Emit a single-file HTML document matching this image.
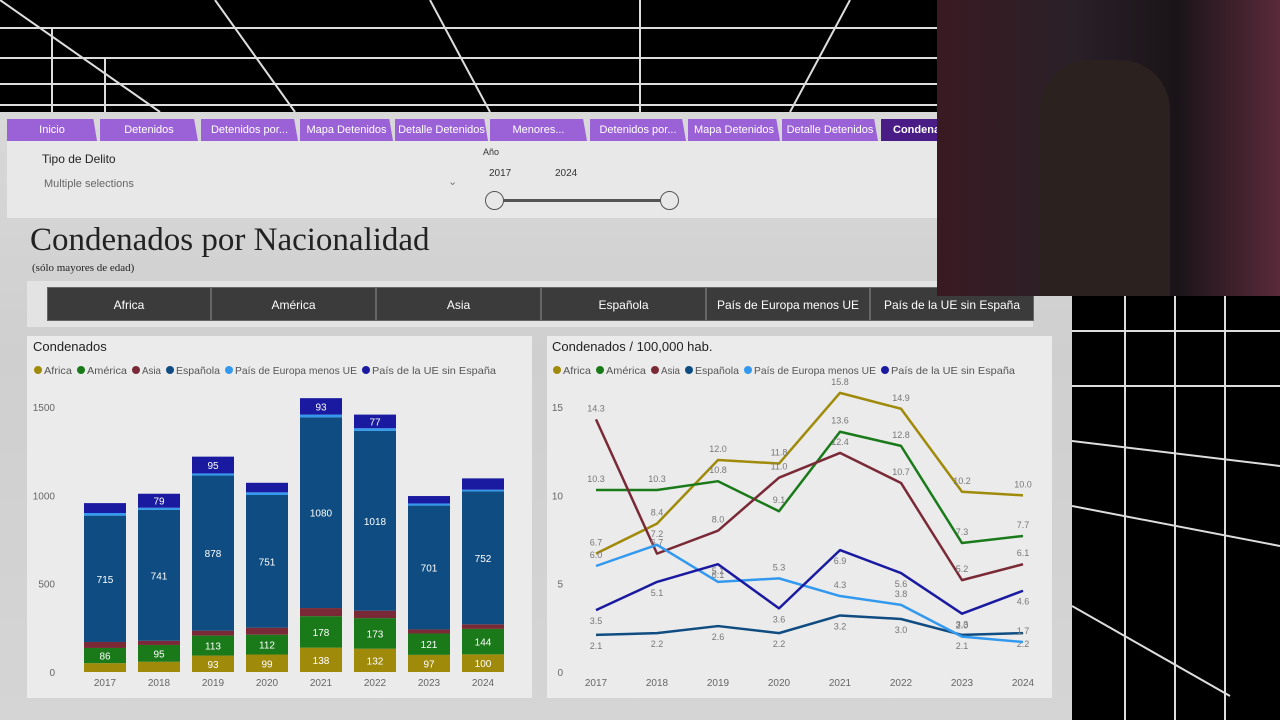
<!DOCTYPE html>
<html><head><meta charset="utf-8"><style>
body{margin:0;width:1280px;height:720px;overflow:hidden;background:#000;font-family:"Liberation Sans",sans-serif;position:relative}
.abs{position:absolute}
.tab{position:absolute;top:119px;height:22px;background:#9b62d8;color:#fff;font-size:11px;line-height:22px;text-align:center;clip-path:polygon(0 0,96% 0,100% 100%,0 100%)}
.btn{position:absolute;top:287px;height:34px;background:#3b3b3b;color:#fff;font-size:12px;line-height:34px;text-align:center;border:1px solid #666;box-sizing:border-box}
</style></head><body>
<svg class="abs" style="left:0;top:0" width="937" height="115">
<rect width="937" height="115" fill="#000"/>
<g stroke="#ddd" stroke-width="2" fill="none">
<line x1="0" y1="28" x2="937" y2="28"/><line x1="0" y1="58" x2="937" y2="58"/><line x1="0" y1="84" x2="937" y2="84"/><line x1="0" y1="105" x2="937" y2="105"/>
<line x1="0" y1="0" x2="160" y2="112"/><line x1="215" y1="0" x2="295" y2="112"/><line x1="430" y1="0" x2="490" y2="112"/><line x1="640" y1="0" x2="640" y2="112"/><line x1="850" y1="0" x2="790" y2="112"/>
<line x1="52" y1="28" x2="52" y2="112"/><line x1="105" y1="58" x2="105" y2="112"/></g></svg>
<div class="abs" style="left:0;top:112px;width:1072px;height:608px;background:linear-gradient(#d8d8d8,#cfcfcf 40%,#d5d5d5)"></div>
<div class="abs" style="left:7px;top:141px;width:930px;height:77px;background:#e8e8e8"></div>
<div class="tab" style="left:7px;width:90px">Inicio</div>
<div class="tab" style="left:100px;width:98px">Detenidos</div>
<div class="tab" style="left:201px;width:97px">Detenidos por...</div>
<div class="tab" style="left:300px;width:93px">Mapa Detenidos</div>
<div class="tab" style="left:395px;width:93px">Detalle Detenidos</div>
<div class="tab" style="left:490px;width:97px">Menores...</div>
<div class="tab" style="left:590px;width:96px">Detenidos por...</div>
<div class="tab" style="left:688px;width:92px">Mapa Detenidos</div>
<div class="tab" style="left:782px;width:96px">Detalle Detenidos</div>
<div class="tab" style="left:881px;width:60px;background:#4a1c86;font-weight:bold;text-align:left;padding-left:12px;clip-path:none">Condena</div>
<div class="abs" style="left:42px;top:152px;font-size:12px;color:#222">Tipo de Delito</div>
<div class="abs" style="left:44px;top:178px;font-size:11px;color:#666">Multiple selections</div>
<div class="abs" style="left:448px;top:175px;font-size:11px;color:#777">&#8964;</div>
<div class="abs" style="left:483px;top:147px;font-size:9px;color:#333">Año</div>
<div class="abs" style="left:489px;top:168px;font-size:10px;color:#333">2017</div>
<div class="abs" style="left:555px;top:168px;font-size:10px;color:#333">2024</div>
<div class="abs" style="left:495px;top:199px;width:175px;height:3px;background:#555"></div>
<div class="abs" style="left:485px;top:191px;width:17px;height:17px;border:1.5px solid #555;border-radius:50%;background:#e8e8e8"></div>
<div class="abs" style="left:660px;top:191px;width:17px;height:17px;border:1.5px solid #555;border-radius:50%;background:#e8e8e8"></div>
<div class="abs" style="left:30px;top:222px;font-family:'Liberation Serif',serif;font-size:33px;color:#222">Condenados por Nacionalidad</div>
<div class="abs" style="left:32px;top:262px;font-family:'Liberation Serif',serif;font-size:11px;color:#222">(sólo mayores de edad)</div>
<div class="abs" style="left:27px;top:281px;width:1006px;height:46px;background:#e3e3e3"></div>
<div class="btn" style="left:47px;width:164px">Africa</div>
<div class="btn" style="left:211px;width:165px">América</div>
<div class="btn" style="left:376px;width:165px">Asia</div>
<div class="btn" style="left:541px;width:165px">Española</div>
<div class="btn" style="left:706px;width:164px">País de Europa menos UE</div>
<div class="btn" style="left:870px;width:164px">País de la UE sin España</div>
<div class="abs" style="left:937px;top:0;width:343px;height:296px;background:linear-gradient(90deg,#3a1a22,#2a2028 40%,#1a1418 70%,#5a2a3a)"></div>
<div class="abs" style="left:1040px;top:60px;width:130px;height:236px;background:#2b2220;border-radius:50px 50px 0 0"></div>
<svg class="abs" style="left:1072px;top:296px" width="208" height="424">
<rect width="208" height="424" fill="#000"/><g stroke="#ddd" stroke-width="2">
<line x1="53" y1="0" x2="53" y2="424"/><line x1="103" y1="0" x2="103" y2="424"/><line x1="153" y1="0" x2="153" y2="424"/>
<line x1="0" y1="35" x2="208" y2="35"/><line x1="0" y1="90" x2="208" y2="90"/><line x1="0" y1="145" x2="208" y2="170"/><line x1="0" y1="210" x2="208" y2="250"/><line x1="0" y1="310" x2="158" y2="400"/></g></svg>
<div class="abs" style="left:27px;top:336px;width:505px;height:362px;background:#ebebeb"></div>
<div class="abs" style="left:547px;top:336px;width:505px;height:362px;background:#ebebeb"></div>
<svg id="bar" class="abs" style="left:0;top:0" width="1280" height="720"></svg>
<script>
const years=["2017","2018","2019","2020","2021","2022","2023","2024"];
const seriesNames=["Africa","América","Asia","Española","País de Europa menos UE","País de la UE sin España"];
const colors=["#a08a0a","#1a7a1a","#7a2a36","#0f4c81","#3399ee","#1a1aa0"];
const barAfrica=[50,58,93,99,138,132,97,100];
const barAmerica=[86,95,113,112,178,173,121,144];
const barAsia=[34,24,28,40,46,42,23,26];
const barEspanola=[715,741,878,751,1080,1018,701,752];
const barEuropa=[15,12,12,15,15,15,12,10];
const barUE=[56,79,95,54,93,77,42,64];
const barLabels=[[false,false,true,true,true,true,true,true],[true,true,true,true,true,true,true,true],[false,false,false,false,false,false,false,false],[true,true,true,true,true,true,true,true],[false,false,false,false,false,false,false,false],[false,true,true,false,true,true,false,false]];
const barTicks=[0,500,1000,1500];
const lineAfrica=[6.7,8.4,12.0,11.8,15.8,14.9,10.2,10.0];
const lineAmerica=[10.3,10.3,10.8,9.1,13.6,12.8,7.3,7.7];
const lineAsia=[14.3,6.7,8.0,11.0,12.4,10.7,5.2,6.1];
const lineEspanola=[2.1,2.2,2.6,2.2,3.2,3.0,2.1,2.2];
const lineEuropa=[6.0,7.2,5.1,5.3,4.3,3.8,2.0,1.7];
const lineUE=[3.5,5.1,6.1,3.6,6.9,5.6,3.3,4.6];
const lineTicks=[0,5,10,15];
const NS="http://www.w3.org/2000/svg";
const svg=document.getElementById('bar');
function mk(t,a,txt){const e=document.createElementNS(NS,t);for(const k in a)e.setAttribute(k,a[k]);if(txt!=null)e.textContent=txt;svg.appendChild(e);return e;}
function fmt(v){return v.toFixed(1);}
const by=v=>672-v*265/1500, bx=i=>105+i*54;
let t=mk('text',{x:33,y:351,'font-size':13,fill:'#222'},'Condenados');


const legendWidths=[28,40,19,44,122,124];
function legend(x0,prefix){let x=x0;seriesNames.forEach((n,i)=>{let c=mk('circle',{cx:x+4,cy:370,r:4,fill:colors[i]});let tt=mk('text',{x:x+10,y:374,'font-size':10.5,fill:'#555',textLength:legendWidths[i],lengthAdjust:'spacingAndGlyphs'},n);x+=10+legendWidths[i]+5;});}
legend(34,'bar');legend(553,'line');
barTicks.forEach(v=>{let e=mk('text',{x:55,y:by(v)+4,'font-size':10,fill:'#666','text-anchor':'end'},String(v));});
const stacks=[barAfrica,barAmerica,barAsia,barEspanola,barEuropa,barUE];
years.forEach((y,i)=>{let base=0;stacks.forEach((s,j)=>{const v=s[i];let r=mk('rect',{x:bx(i)-21,y:by(base+v),width:42,height:v*265/1500,fill:colors[j]});
if(barLabels[j][i]){let l=mk('text',{x:bx(i),y:by(base+v/2)+4,'font-size':10,fill:'#fff','text-anchor':'middle'},String(v));}
base+=v;});
let xl=mk('text',{x:bx(i),y:686,'font-size':10,fill:'#666','text-anchor':'middle'},y);});
const ly=v=>672-v*265/15, lx=i=>596+i*61;
t=mk('text',{x:552,y:351,'font-size':13,fill:'#222'},'Condenados / 100,000 hab.');


lineTicks.forEach(v=>{let e=mk('text',{x:563,y:ly(v)+4,'font-size':10,fill:'#666','text-anchor':'end'},String(v));});
years.forEach((y,i)=>{let e=mk('text',{x:lx(i),y:686,'font-size':10,fill:'#666','text-anchor':'middle'},y);});
const lines=[lineAfrica,lineAmerica,lineAsia,lineEspanola,lineEuropa,lineUE];
const labOff=[-8,-8,-8,14,-8,14];
lines.forEach((s,j)=>{let p=mk('polyline',{points:s.map((v,i)=>lx(i)+','+ly(v)).join(' '),fill:'none',stroke:colors[j],'stroke-width':2.5,'stroke-linejoin':'round'});
s.forEach((v,i)=>{let l=mk('text',{x:lx(i),y:ly(v)+labOff[j],'font-size':9,fill:'#777','text-anchor':'middle'},fmt(v));});});
</script>
</body></html>
